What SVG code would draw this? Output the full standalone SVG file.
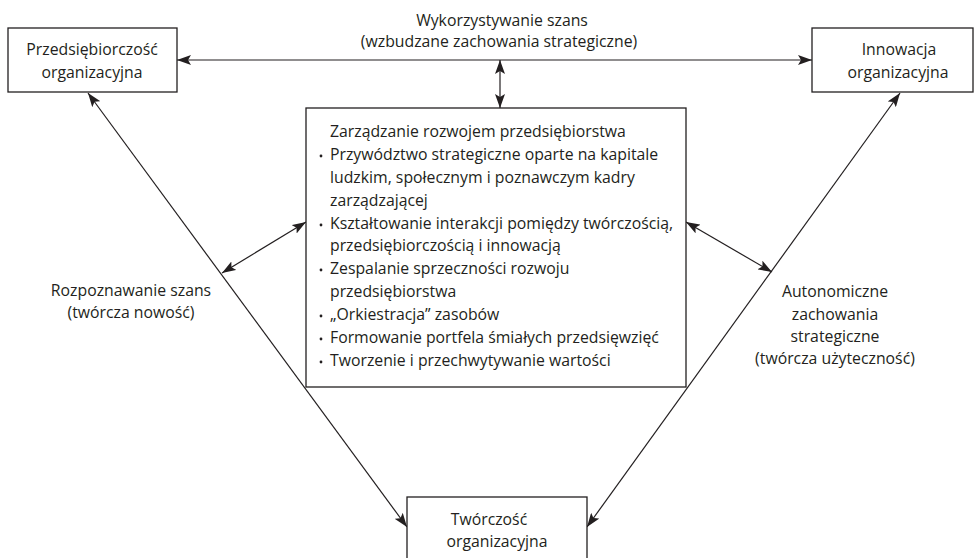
<svg xmlns="http://www.w3.org/2000/svg" width="974" height="558" viewBox="0 0 974 558">
<defs>
<marker id="ah" viewBox="0 0 14 10" refX="14" refY="5" markerWidth="14" markerHeight="10" markerUnits="userSpaceOnUse" orient="auto-start-reverse">
<path d="M0,0 L14,5 L0,10 L3,5 Z" fill="#231f20"/>
</marker>
<style>
.box{fill:#fff;stroke:#231f20;stroke-width:1.3}
.ln{fill:none;stroke:#231f20;stroke-width:1.2}
text{font-family:"Open Sans","Noto Sans",sans-serif;font-size:15.8px;fill:#231f20}
.c{text-anchor:middle}
.b{fill:#231f20}
</style>
</defs>
<g id="connectors">
<line class="ln" x1="177" y1="60" x2="812" y2="60" marker-start="url(#ah)" marker-end="url(#ah)"/>
<line class="ln" x1="500" y1="60" x2="500" y2="108" marker-start="url(#ah)" marker-end="url(#ah)"/>
<line class="ln" x1="407" y1="527" x2="88" y2="93" marker-start="url(#ah)" marker-end="url(#ah)"/>
<line class="ln" x1="587" y1="527" x2="900" y2="93" marker-start="url(#ah)" marker-end="url(#ah)"/>
<line class="ln" x1="222" y1="273" x2="306" y2="222" marker-start="url(#ah)" marker-end="url(#ah)"/>
<line class="ln" x1="772" y1="272" x2="686" y2="222" marker-start="url(#ah)" marker-end="url(#ah)"/>
</g>
<g id="label-top">
<text class="c" x="502" y="26">Wykorzystywanie szans</text>
<text class="c" x="499" y="47">(wzbudzane zachowania strategiczne)</text>
</g>
<g id="label-left">
<text class="c" x="131" y="296">Rozpoznawanie szans</text>
<text class="c" x="131" y="318">(twórcza nowość)</text>
</g>
<g id="label-right">
<text class="c" x="835" y="297">Autonomiczne</text>
<text class="c" x="835" y="320">zachowania</text>
<text class="c" x="835" y="342">strategiczne</text>
<text class="c" x="835" y="364">(twórcza użyteczność)</text>
</g>
<g id="node-przedsiebiorczosc">
<rect class="box" x="8" y="28" width="169" height="64"/>
<text class="c" x="92" y="55">Przedsiębiorczość</text>
<text class="c" x="92" y="78">organizacyjna</text>
</g>
<g id="node-innowacja">
<rect class="box" x="812" y="28" width="161" height="64"/>
<text class="c" x="899" y="55">Innowacja</text>
<text class="c" x="898" y="78">organizacyjna</text>
</g>
<g id="node-tworczosc">
<rect class="box" x="407" y="497" width="180" height="70"/>
<text class="c" x="489" y="525">Twórczość</text>
<text class="c" x="497" y="547">organizacyjna</text>
</g>
<g id="node-zarzadzanie">
<rect class="box" x="306" y="108" width="380" height="279"/>
<text x="330" y="137">Zarządzanie rozwojem przedsiębiorstwa</text>
<text x="330" y="160">Przywództwo strategiczne oparte na kapitale</text>
<text x="330" y="183">ludzkim, społecznym i poznawczym kadry</text>
<text x="330" y="206">zarządzającej</text>
<text x="330" y="229">Kształtowanie interakcji pomiędzy twórczością,</text>
<text x="330" y="251">przedsiębiorczością i innowacją</text>
<text x="330" y="274">Zespalanie sprzeczności rozwoju</text>
<text x="330" y="297">przedsiębiorstwa</text>
<text x="330" y="320">„Orkiestracja” zasobów</text>
<text x="330" y="343">Formowanie portfela śmiałych przedsięwzięć</text>
<text x="330" y="366">Tworzenie i przechwytywanie wartości</text>
<circle class="b" cx="321" cy="156" r="1.4"/>
<circle class="b" cx="321" cy="225" r="1.4"/>
<circle class="b" cx="321" cy="270" r="1.4"/>
<circle class="b" cx="321" cy="316" r="1.4"/>
<circle class="b" cx="321" cy="339" r="1.4"/>
<circle class="b" cx="321" cy="362" r="1.4"/>
</g>
</svg>
